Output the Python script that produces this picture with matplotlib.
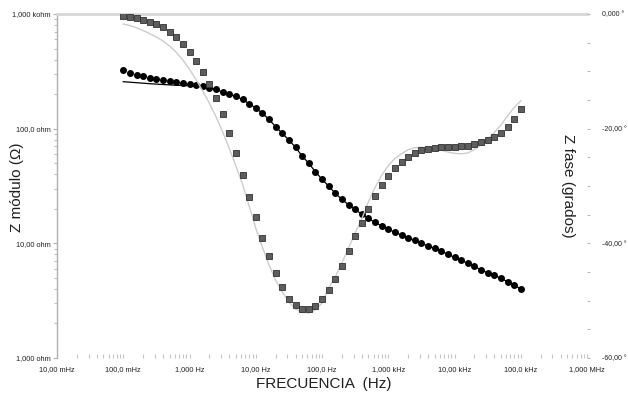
import numpy as np
import matplotlib
matplotlib.use("Agg")
import matplotlib.pyplot as plt
from matplotlib.ticker import LogLocator, MultipleLocator, NullFormatter, FixedLocator
from matplotlib import font_manager as fm

# ---------------- data ----------------
freq = np.logspace(-1, 5, 61)  # 0.1 Hz .. 100 kHz, 10 points / decade

phase_meas = [-0.30, -0.47, -0.75, -1.05, -1.34, -1.74, -2.32, -3.09, -3.96, -5.23,
              -6.58, -8.20, -10.06, -12.21, -14.70, -17.49, -20.67, -24.19, -28.08, -31.87,
              -35.49, -39.12, -42.21, -45.23, -47.67, -49.66, -50.81, -51.51, -51.51, -50.93,
              -49.76, -48.19, -46.22, -43.95, -41.34, -38.77, -36.40, -33.96, -31.80, -29.83,
              -28.26, -26.91, -25.76, -24.94, -24.30, -23.77, -23.55, -23.32, -23.25, -23.20,
              -23.15, -23.08, -22.97, -22.62, -22.38, -21.98, -21.51, -20.70, -19.71, -18.37,
              -16.57]

phase_fit = [-1.74, -2.01, -2.39, -2.88, -3.44, -4.01, -4.71, -5.58, -6.68, -8.02,
             -9.65, -11.46, -13.43, -15.58, -17.91, -20.53, -23.42, -26.51, -29.65, -33.49,
             -37.33, -40.64, -43.78, -46.40, -48.49, -50.23, -51.45, -52.06, -52.15, -51.63,
             -50.41, -47.79, -45.87, -43.43, -40.82, -38.20, -35.76, -32.79, -30.26, -28.17,
             -26.46, -25.20, -24.38, -23.67, -23.34, -23.25, -23.34, -23.55, -23.77, -24.07,
             -24.30, -24.38, -24.24, -23.63, -22.85, -21.86, -20.67, -19.36, -17.79, -16.31,
             -15.17]

mod_meas = [324.8, 307.6, 295.5, 287.9, 278.2, 271.1, 265.7, 258.8, 253.7, 248.6,
            245.2, 240.4, 234.2, 227.7, 219.6, 208.8, 200.6, 190.8, 180.3, 165.1,
            151.4, 136.1, 120.7, 104.0, 91.1, 79.6, 68.8, 57.7, 49.9, 42.1,
            36.2, 31.6, 27.3, 24.2, 21.7, 19.8, 17.9, 16.5, 15.2, 14.2,
            13.3, 12.5, 11.8, 11.1, 10.6, 9.97, 9.48, 9.02, 8.54, 8.02,
            7.55, 7.11, 6.70, 6.31, 5.85, 5.54, 5.26, 4.95, 4.63, 4.33,
            4.00]

# fitted modulus: low-frequency part differs, then follows the measurement
mod_fit_low = [256.8, 254.2, 251.7, 249.2, 246.7, 244.7, 242.7, 240.8, 239.3, 237.9,
               236.5, 235.5]
mod_fit = mod_fit_low + mod_meas[len(mod_fit_low):]

x_ticks = [0.01, 0.1, 1, 10, 100, 1e3, 1e4, 1e5, 1e6]
x_labels = ["10,00 mHz", "100,0 mHz", "1,000 Hz", "10,00 Hz", "100,0 Hz",
            "1,000 kHz", "10,00 kHz", "100,0 kHz", "1,000 MHz"]
mod_ticks = [1, 10, 100, 1000]
mod_labels = ["1,000 ohm", "10,00 ohm", "100,0 ohm", "1,000 kohm"]
phase_ticks = [-60, -40, -20, 0]
phase_labels = ["-60,00 °", "-40,00 °", "-20,00 °", "0,000 °"]

# ---------------- style ----------------
names = {f.name for f in fm.fontManager.ttflist}
fam = ["Liberation Sans Narrow"] if "Liberation Sans Narrow" in names else ["Liberation Sans"]
plt.rcParams["font.family"] = fam + ["DejaVu Sans"]

W, H = 628, 394
fig = plt.figure(figsize=(W / 100, H / 100), dpi=100)
L, R, T, B = 57, 587, 14, 358
ax = fig.add_axes([L / W, 1 - B / H, (R - L) / W, (B - T) / H])
ax.set_xscale("log")
ax.set_yscale("log")
ax.set_xlim(0.01, 1e6)
ax.set_ylim(1, 1000)

ax2 = ax.twinx()
ax2.set_ylim(-60, 0)

# spines
for s in ["right", "bottom"]:
    ax.spines[s].set_visible(False)
ax.spines["left"].set_color("#b0b0b0")
ax.spines["left"].set_linewidth(1.0)
ax.spines["top"].set_color("#d6d6d6")
ax.spines["top"].set_linewidth(2.0)
for s in ax2.spines.values():
    s.set_visible(False)

# left axis ticks
ax.yaxis.set_major_locator(FixedLocator(mod_ticks))
ax.set_yticklabels(mod_labels)
ax.yaxis.set_minor_locator(LogLocator(base=10, subs=np.arange(2, 10)))
ax.yaxis.set_minor_formatter(NullFormatter())
ax.tick_params(axis="y", which="major", direction="out", length=3, width=0.8,
               color="#b0b0b0", labelsize=5.3, pad=1.5, labelcolor="#202020")
ax.tick_params(axis="y", which="minor", direction="out", length=2, width=0.8,
               color="#c0c0c0")

# x ticks
ax.xaxis.set_major_locator(FixedLocator(x_ticks))
ax.set_xticklabels(x_labels)
ax.xaxis.set_minor_locator(LogLocator(base=10, subs=np.arange(2, 10), numticks=20))
ax.xaxis.set_minor_formatter(NullFormatter())
ax.tick_params(axis="x", which="both", direction="in", length=3, width=0.8,
               color="#c4c4c4", labelsize=5.3, pad=6, labelcolor="#202020")

# right axis ticks
ax2.yaxis.set_major_locator(FixedLocator(phase_ticks))
ax2.set_yticklabels(phase_labels)
ax2.yaxis.set_minor_locator(MultipleLocator(5))
ax2.tick_params(axis="y", which="both", direction="out", length=2.5, width=0.8,
                color="#b8b8b8", labelsize=5.0, pad=8, labelcolor="#202020")

# ---------------- data drawing ----------------
ax.plot(freq, mod_meas, linestyle="none", marker="o", markersize=4.0,
        color="black", zorder=3)
ax.plot(freq, mod_fit, color="black", linewidth=0.9, zorder=4)

ax2.plot(freq, phase_fit, color="#cccccc", linewidth=1.0, zorder=2)
ax2.plot(freq, phase_meas, linestyle="none", marker="s", markersize=3.9,
         markerfacecolor="#5e5e5e", markeredgecolor="#303030",
         markeredgewidth=0.6, zorder=3)

# ---------------- axis titles ----------------
fig.text(17 / W, 1 - 187 / H, "Z módulo (Ω)", rotation=90, ha="center",
         va="center", fontsize=11, color="#202020")
fig.text(568 / W, 1 - 186 / H, "Z fase (grados)", rotation=-90, ha="center",
         va="center", fontsize=11, color="#202020")
fig.text(324 / W, 1 - 384 / H, "FRECUENCIA  (Hz)", ha="center", va="center",
         fontsize=11, color="#202020")

fig.savefig("out.png", dpi=100)
